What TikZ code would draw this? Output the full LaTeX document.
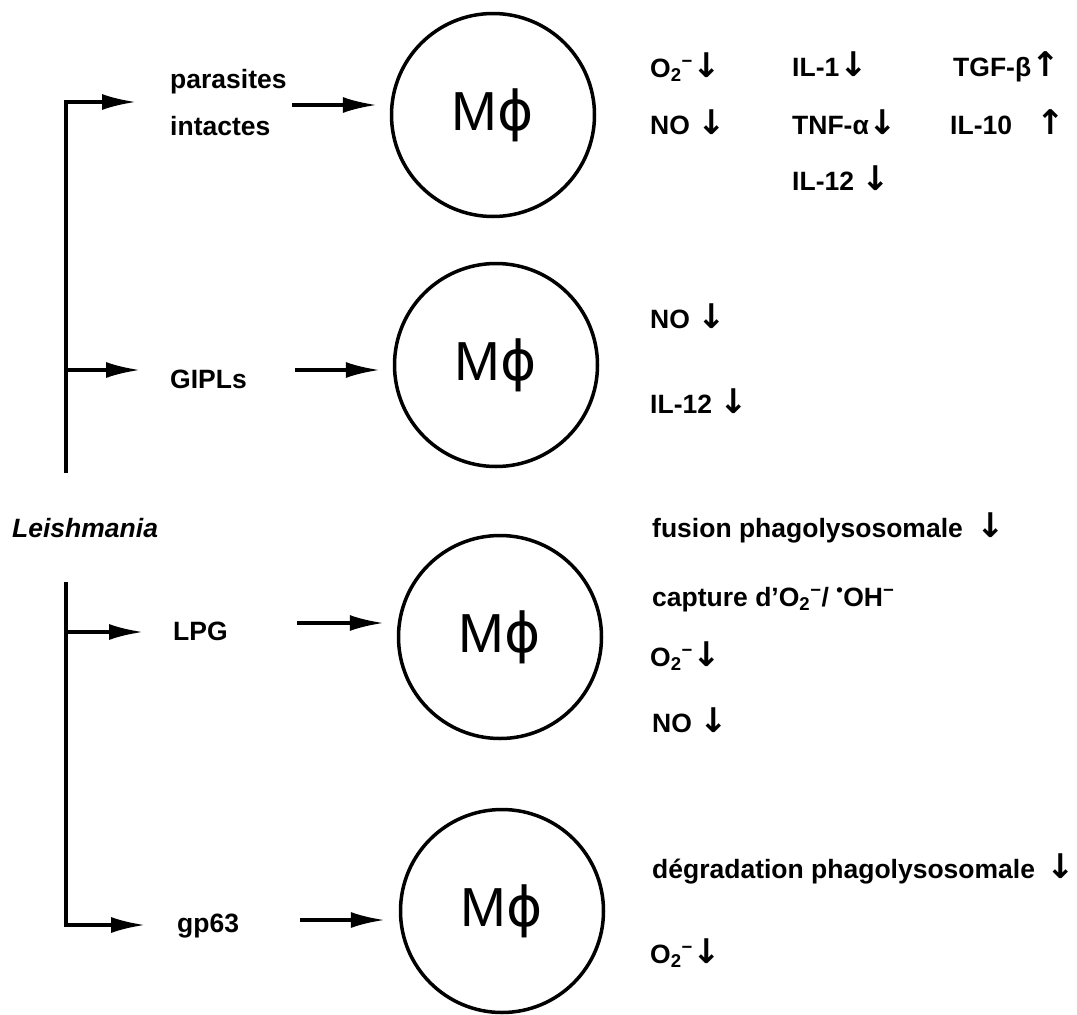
\documentclass[tikz,border=0pt]{standalone}
\usepackage{fontspec}
\setmainfont{Liberation Sans}
\newfontfamily\symfont{DejaVu Sans}
\usetikzlibrary{arrows.meta,positioning}
\newcommand{\lblsize}{\fontsize{26.5}{30}\selectfont}
\newcommand{\superox}{O\textsubscript{2}\textsuperscript{−}}
\newcommand{\decr}{{\symfont\bfseries\fontsize{34}{30}\selectfont ↓}}
\newcommand{\incr}{{\symfont\bfseries\fontsize{34}{30}\selectfont ↑}}
\begin{document}
\begin{tikzpicture}[x=1pt, y=-1pt, font=\bfseries\lblsize]
\useasboundingbox (0,0) rectangle (1077,1015);
% Define styles
\tikzstyle{cell} = [circle, draw=black, line width=3.5pt, minimum size=203pt, inner sep=0pt, font=\mdseries\fontsize{55}{60}\selectfont]
\tikzstyle{agent} = [anchor=base west, inner sep=0pt]
\tikzstyle{effect} = [anchor=base west, inner sep=0pt]
\tikzstyle{arrow} = [-{Latex[length=34pt,width=16pt]}, line width=3.5pt, draw=black]

% Define nodes (macrophages)
\node[cell] (mac1) at (493,115) {M{\symfont ϕ}};
\node[cell] (mac2) at (496,365) {M{\symfont ϕ}};
\node[cell] (mac3) at (500,637) {M{\symfont ϕ}};
\node[cell] (mac4) at (502,911) {M{\symfont ϕ}};

% Define nodes (parasite and its molecules)
\node[agent, font=\bfseries\itshape\lblsize] (leish) at (12,537) {Leishmania};
\node[agent] (parasites) at (170,88) {parasites};
\node[agent] (intactes) at (170,135) {intactes};
\node[agent] (gipl) at (170,388) {GIPLs};
\node[agent] (lpg) at (173,640) {LPG};
\node[agent] (gp63) at (177,932) {gp63};

% Trunk and branches
\coordinate (trunkA) at (66,473);
\coordinate (trunkB) at (66,582);
\coordinate (joinGipl) at (66,370);
\coordinate (joinLpg) at (66,632);
\coordinate (fork1) at (136,102);
\coordinate (fork2) at (140,370);
\coordinate (fork3) at (143,632);
\coordinate (fork4) at (145,925);
\draw[arrow] (trunkA) |- (fork1);
\draw[arrow] (joinGipl) -- (fork2);
\draw[arrow] (joinLpg) -- (fork3);
\draw[arrow] (trunkB) |- (fork4);

% Arrows to macrophages
\coordinate (in1) at (292,105);
\coordinate (in2) at (295,370);
\coordinate (in3) at (297,623);
\coordinate (in4) at (300,920);
\draw[arrow, shorten >=13pt] (in1) -- (in1 -| mac1.west);
\draw[arrow, shorten >=13pt] (in2) -- (in2 -| mac2.west);
\draw[arrow, shorten >=13pt] (in3) -- (in3 -| mac3.west);
\draw[arrow, shorten >=14pt] (in4) -- (in4 -| mac4.west);

% Effects (intact parasites)
\node[effect] (o2a) at (650,77) {\superox\decr};
\node[effect] (noa) at (650,134) {NO \decr};
\node[effect] (ilone) at (792,76) {IL-1\decr};
\node[effect] (tnf) at (792,134) {TNF-α\decr};
\node[effect] (iltwelvea) at (792,190) {IL-12 \decr};
\node[effect] (tgf) at (953,76) {TGF-β\incr};
\node[effect] (ilten) at (950,134) {IL-10\hspace{24pt}\incr};

% Effects (GIPLs)
\node[effect] (nob) at (650,328) {NO \decr};
\node[effect] (iltwelveb) at (650,413) {IL-12 \decr};

% Effects (LPG)
\node[effect] (fusion) at (652,537) {fusion phagolysosomale\hspace{14pt}\decr};
\node[effect] (capture) at (652,606) {capture d’O\textsubscript{2}\textsuperscript{−}/ \textsuperscript{•}OH\textsuperscript{−}};
\node[effect] (o2c) at (650,666) {\superox\decr};
\node[effect] (noc) at (652,732) {NO \decr};

% Effects (gp63)
\node[effect] (degrad) at (652,878) {dégradation phagolysosomale\hspace{11pt}\decr};
\node[effect] (o2d) at (650,963) {\superox\decr};

\end{tikzpicture}
\end{document}
